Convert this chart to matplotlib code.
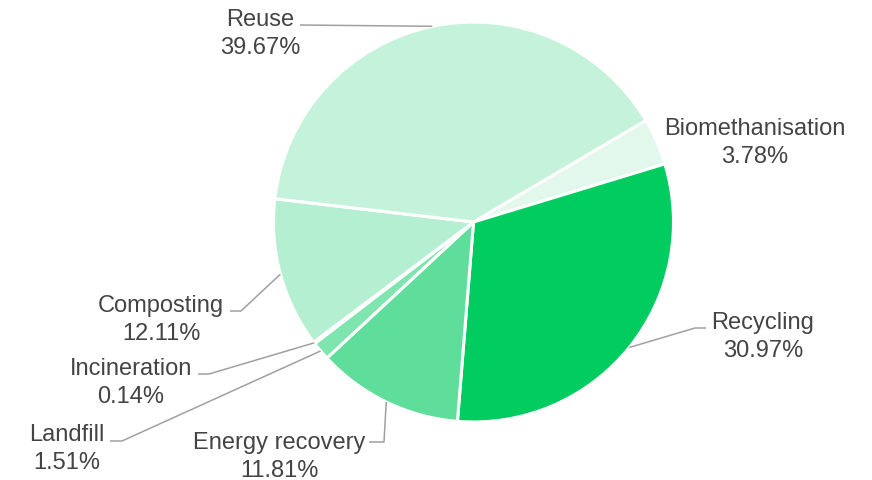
import matplotlib
matplotlib.use("Agg")
import matplotlib.pyplot as plt
import numpy as np

categories = ["Biomethanisation", "Recycling", "Energy recovery", "Landfill",
              "Incineration", "Composting", "Reuse"]
values = [3.78, 30.97, 11.81, 1.51, 0.14, 12.11, 39.67]
colors = ["#e2f8ec", "#00cc60", "#5ede9a", "#7ee5ae", "#9aeac0", "#b4efd2", "#c5f2db"]

W, H = 872, 480
CX, CY, R = 473.5, 222, 200

# label layout in pixel coords (x, y from top): text centre, leader elbow points
layout = {
    "Reuse": ((260, 34), [(300, 25)]),
    "Biomethanisation": ((755, 143), []),
    "Recycling": ((763, 337), [(695, 328), (706, 328)]),
    "Energy recovery": ((279, 457), [(384, 442), (369, 442)]),
    "Landfill": ((67, 449), [(122, 441), (110, 441)]),
    "Incineration": ((131, 383), [(209, 374), (198, 374)]),
    "Composting": ((161, 320), [(241, 311), (230, 311)]),
}

plt.rcParams['font.family'] = ['Liberation Sans', 'DejaVu Sans']
fig = plt.figure(figsize=(W / 100, H / 100), dpi=100)
ax = fig.add_axes([0, 0, 1, 1])

wedges, _ = ax.pie(values, colors=colors, startangle=30.5, counterclock=False,
                   center=(CX, H - CY), radius=R,
                   wedgeprops=dict(edgecolor="white", linewidth=2.2))

for w, cat, v in zip(wedges, categories, values):
    (tx, ty), pts = layout[cat]
    mid = np.deg2rad((w.theta1 + w.theta2) / 2)
    if pts:
        xs = [CX + R * np.cos(mid)] + [p[0] for p in pts]
        ys = [H - CY + R * np.sin(mid)] + [H - p[1] for p in pts]
        ax.plot(xs, ys, color="#a0a0a0", lw=1.1, solid_capstyle="butt")
    ax.text(tx, H - ty, f"{cat}\n{v:.2f}%", ha="center", va="center",
            multialignment="center", fontsize=17, color="#444444", linespacing=1.3)

ax.set_xlim(0, W)
ax.set_ylim(0, H)
ax.set_aspect("equal")
ax.axis("off")
fig.savefig("out.png", dpi=100, facecolor="white")
